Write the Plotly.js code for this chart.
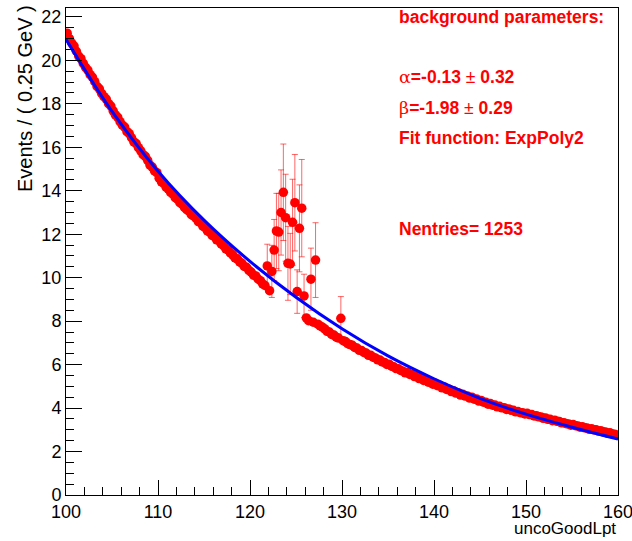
<!DOCTYPE html>
<html>
<head>
<meta charset="utf-8">
<script src="https://cdn.plot.ly/plotly-3.0.1.min.js"></script>
<style>
html,body{margin:0;padding:0;background:#fff;}
#plot{width:632px;height:541px;}
</style>
</head>
<body>
<div id="plot"></div>
<script>
// Binning of the RooFit frame
const binLow = 100;
const binWidth = 0.25;

// Events per 0.25 GeV bin (240 bins, 100 -> 160)
const counts = [
  21.25, 21.00, 20.80, 20.66,  20.42, 20.20, 20.08, 19.86,  19.68, 19.55, 19.34, 19.22,
  19.02, 18.80, 18.69, 18.48,  18.33, 18.22, 18.01, 17.90,  17.68, 17.49, 17.38, 17.18,
  17.02, 16.93, 16.72, 16.63,  16.44, 16.25, 16.17, 15.98,  15.84, 15.66, 15.58, 15.40,
  15.18, 15.09, 14.91, 14.83,  14.58, 14.41, 14.34, 14.17,  14.08, 13.92, 13.85, 13.68,
  13.61, 13.45, 13.39, 13.23,  13.13, 13.06, 12.90, 12.84,  12.74, 12.58, 12.53, 12.37,
  12.30, 12.15, 12.10, 11.95,  11.89, 11.74, 11.70, 11.55,  11.47, 11.33, 11.28, 11.14,
  11.05, 10.91, 10.87, 10.73,  10.66, 10.52, 10.48, 10.34,  10.26, 10.12, 10.08, 9.94,
  9.86, 9.72, 9.64, 10.54,     9.40, 10.29, 11.27, 12.15,   12.10, 13.00, 13.93, 12.76,
  10.66, 10.63, 12.55, 13.45,  9.36, 12.27, 13.20, 9.16,    8.15, 8.02, 9.93, 7.95,
  10.81, 7.86, 7.78, 7.72,     7.64, 7.53, 7.50, 7.39,      7.36, 7.26, 7.22, 8.13,
  7.10, 7.06, 6.96, 6.92,      6.89, 6.79, 6.76, 6.66,      6.65, 6.56, 6.53, 6.43,
  6.43, 6.34, 6.31, 6.22,      6.21, 6.12, 6.10, 6.01,      6.02, 5.93, 5.90, 5.82,
  5.81, 5.73, 5.70, 5.62,      5.64, 5.55, 5.54, 5.45,      5.47, 5.36, 5.40, 5.27,
  5.31, 5.19, 5.22, 5.10,      5.14, 5.03, 5.05, 4.93,      4.97, 4.86, 4.87, 4.76,
  4.80, 4.69, 4.71, 4.60,      4.64, 4.55, 4.56, 4.46,      4.50, 4.41, 4.42, 4.32,
  4.35, 4.27, 4.27, 4.18,      4.21, 4.13, 4.14, 4.06,      4.08, 4.01, 4.02, 3.94,
  3.96, 3.90, 3.90, 3.83,      3.84, 3.79, 3.78, 3.73,      3.76, 3.70, 3.70, 3.64,
  3.65, 3.60, 3.59, 3.53,      3.54, 3.48, 3.48, 3.42,      3.44, 3.39, 3.38, 3.32,
  3.33, 3.28, 3.27, 3.21,      3.24, 3.19, 3.18, 3.12,      3.14, 3.09, 3.08, 3.02,
  3.05, 3.00, 3.00, 2.94,      2.96, 2.90, 2.90, 2.84,      2.86, 2.81, 2.80, 2.76
];

// Bins with visible error bars (bin centre -> error)
const errBinCenters = [121.875, 122.375, 122.625, 122.875, 123.125, 123.375, 123.625, 123.875,
                       124.125, 124.375, 124.625, 124.875, 125.125, 125.375, 125.625, 125.875,
                       126.625, 127.125, 129.875];
const errValues     = [1.0, 1.2, 1.41, 1.73, 1.78, 1.96, 2.22, 2.0,
                       1.7, 1.41, 1.98, 2.22, 1.0, 2.0, 2.24, 1.0,
                       1.43, 1.72, 1.0];

// Background fit curve (ExpPoly2) sampled
const fitX = [100, 105, 110, 115, 120, 125, 130, 135, 140, 145, 150, 155, 160];
const fitY = [20.97, 17.65, 14.90, 12.65, 10.75, 9.10, 7.65, 6.40, 5.35, 4.45, 3.72, 3.12, 2.58];

const xTickVals = [100, 110, 120, 130, 140, 150, 160];
const yTickVals = [0, 2, 4, 6, 8, 10, 12, 14, 16, 18, 20, 22];

const infoLines = [
  {text: '<b>background parameters:</b>', y: 17},
  {text: '<span style="font-family:\'DejaVu Serif\'">α</span><b>=-0.13</b> ± <b>0.32</b>', y: 77},
  {text: '<span style="font-family:\'DejaVu Serif\'">β</span><b>=-1.98</b> ± <b>0.29</b>', y: 108},
  {text: '<b>Fit function: ExpPoly2</b>', y: 138},
  {text: '<b>Nentries= 1253</b>', y: 229}
];

// ---- build ----
const binCenters = counts.map((_, i) => binLow + binWidth * (i + 0.5));
const errors = binCenters.map(c => {
  const k = errBinCenters.findIndex(e => Math.abs(e - c) < 1e-6);
  return k >= 0 ? errValues[k] : 0;
});

const W = 632, H = 541;
const mL = 66, mR = 14, mT = 8, mB = 46;
const pw = W - mL - mR, ph = H - mT - mB;
const px2paperX = px => (px - mL) / pw;
const px2paperY = py => (H - mB - py) / ph;

const font = 'Liberation Sans, Arial, Helvetica, sans-serif';

const data = [
  {
    x: binCenters, y: counts, type: 'scatter', mode: 'markers',
    marker: {color: '#ff0000', size: 9.5, line: {width: 0}},
    error_y: {type: 'data', array: errors, visible: true, color: 'rgba(255,0,0,0.6)', thickness: 1, width: 3},
    hoverinfo: 'x+y', showlegend: false
  },
  {
    x: fitX, y: fitY, type: 'scatter', mode: 'lines',
    line: {color: '#0000ff', width: 3, shape: 'spline', smoothing: 1},
    hoverinfo: 'skip', showlegend: false
  }
];

const annotations = infoLines.map(l => ({
  text: l.text, xref: 'paper', yref: 'paper',
  x: px2paperX(397), y: px2paperY(l.y), xanchor: 'left', yanchor: 'middle',
  showarrow: false, font: {family: font, size: 17.5, color: '#ff0000'}
}));
annotations.push({
  text: 'Events / ( 0.25 GeV )', xref: 'paper', yref: 'paper',
  x: px2paperX(25), y: px2paperY(99), xanchor: 'center', yanchor: 'middle', textangle: -90,
  showarrow: false, font: {family: font, size: 20, color: '#000'}
});
annotations.push({
  text: 'uncoGoodLpt', xref: 'paper', yref: 'paper',
  x: px2paperX(618), y: px2paperY(528), xanchor: 'right', yanchor: 'middle',
  showarrow: false, font: {family: font, size: 17, color: '#000'}
});

const layout = {
  width: W, height: H,
  margin: {l: mL, r: mR, t: mT, b: mB, pad: 0},
  paper_bgcolor: '#fff', plot_bgcolor: '#fff',
  font: {family: font, size: 18, color: '#000'},
  xaxis: {
    range: [100, 160], tickvals: xTickVals, ticks: 'inside', ticklen: 15, tickwidth: 1, tickcolor: '#000',
    minor: {dtick: 2, ticks: 'inside', ticklen: 8, tickwidth: 1, tickcolor: '#000', showgrid: false},
    showline: true, linecolor: '#000', linewidth: 1, mirror: true, showgrid: false, zeroline: false,
    ticklabeloverflow: 'allow',
    tickfont: {family: font, size: 18, color: '#000'}, title: {text: ''}
  },
  yaxis: {
    range: [0, 22.41], tickvals: yTickVals, ticks: 'inside', ticklen: 16, tickwidth: 1, tickcolor: '#000',
    minor: {dtick: 0.5, ticks: 'inside', ticklen: 8, tickwidth: 1, tickcolor: '#000', showgrid: false},
    showline: true, linecolor: '#000', linewidth: 1, mirror: true, showgrid: false, zeroline: false,
    ticklabeloverflow: 'allow',
    tickfont: {family: font, size: 18, color: '#000'}, title: {text: ''}
  },
  annotations: annotations,
  showlegend: false
};

Plotly.newPlot('plot', data, layout, {displayModeBar: false, staticPlot: true});
</script>
</body>
</html>
